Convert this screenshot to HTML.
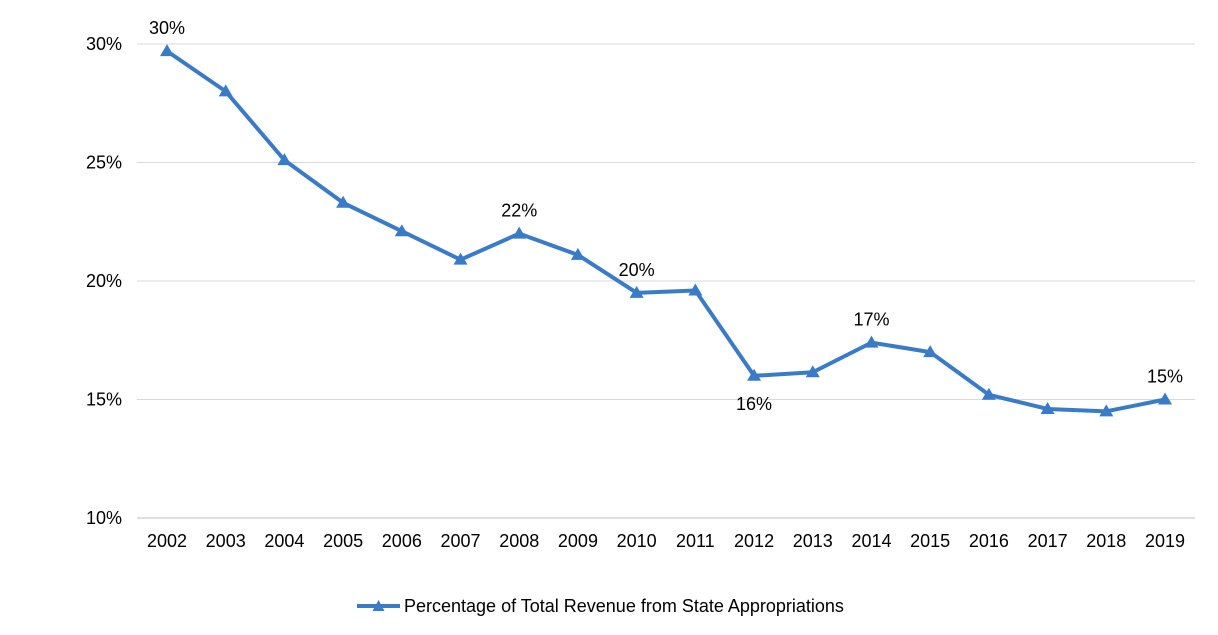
<!DOCTYPE html>
<html><head><meta charset="utf-8"><style>
body{margin:0;background:#fff;}
svg{display:block;font-family:"Liberation Sans",Arial,sans-serif;}
</style></head><body>
<svg id="chart" width="1218" height="635" viewBox="0 0 1218 635">
<g id="grid"></g><g id="yaxis"></g><g id="xaxis"></g><g id="series"></g><g id="labels"></g>
<g>
<line x1="357" y1="606" x2="400" y2="606" stroke="#3a7bc8" stroke-width="4"/>
<polygon points="378.5,600 372.5,611 384.5,611" fill="#3a7bc8"/>
<text x="404" y="612" font-size="18" fill="#000">Percentage of Total Revenue from State Appropriations</text>
</g>
</svg>
<script>
const years=[2002,2003,2004,2005,2006,2007,2008,2009,2010,2011,2012,2013,2014,2015,2016,2017,2018,2019];
const values=[29.7,28.0,25.1,23.3,22.1,20.9,22.0,21.1,19.5,19.6,16.0,16.15,17.4,17.0,15.2,14.6,14.5,15.0];
const yTicks=[10,15,20,25,30];
const labelIdx=[0,6,8,10,12,17];
const labelText=["30%","22%","20%","16%","17%","15%"];
const labelBelow=[false,false,false,true,false,false];
const NS="http://www.w3.org/2000/svg";
const x=i=>167+i*(998/17);
const y=v=>518-(v-10)*23.7;
function mk(t,a,p){const e=document.createElementNS(NS,t);for(const k in a)e.setAttribute(k,a[k]);p.appendChild(e);return e;}
const grid=document.getElementById('grid'),ya=document.getElementById('yaxis'),xa=document.getElementById('xaxis'),se=document.getElementById('series'),lb=document.getElementById('labels');
yTicks.forEach(t=>{
 const l=mk('line',{x1:137,x2:1195,y1:y(t),y2:y(t),stroke:t===10?'#bfbfbf':'#d9d9d9','stroke-width':1},grid);
 
 
 const tx=mk('text',{x:122,y:y(t)+6,'text-anchor':'end','font-size':18},ya);tx.textContent=t+'%';
 
 
});
years.forEach((yr,i)=>{
 const tx=mk('text',{x:x(i),y:547,'text-anchor':'middle','font-size':18},xa);tx.textContent=yr;
 
 
});
const pl=mk('polyline',{points:values.map((v,i)=>x(i)+','+y(v)).join(' '),fill:'none',stroke:'#3a7bc8','stroke-width':4,'stroke-linejoin':'round'},se);


values.forEach((v,i)=>{
 const cx=x(i),cy=y(v);
 const p=mk('polygon',{points:`${cx},${cy-7} ${cx-7},${cy+5} ${cx+7},${cy+5}`,fill:'#3a7bc8'},se);
 
 
});
labelIdx.forEach((idx,k)=>{
 const cx=x(idx),cy=y(values[idx]);
 const tx=mk('text',{x:cx,y:labelBelow[k]?cy+34:cy-17,'text-anchor':'middle','font-size':18},lb);tx.textContent=labelText[k];
 
 
});
</script>
</body></html>
